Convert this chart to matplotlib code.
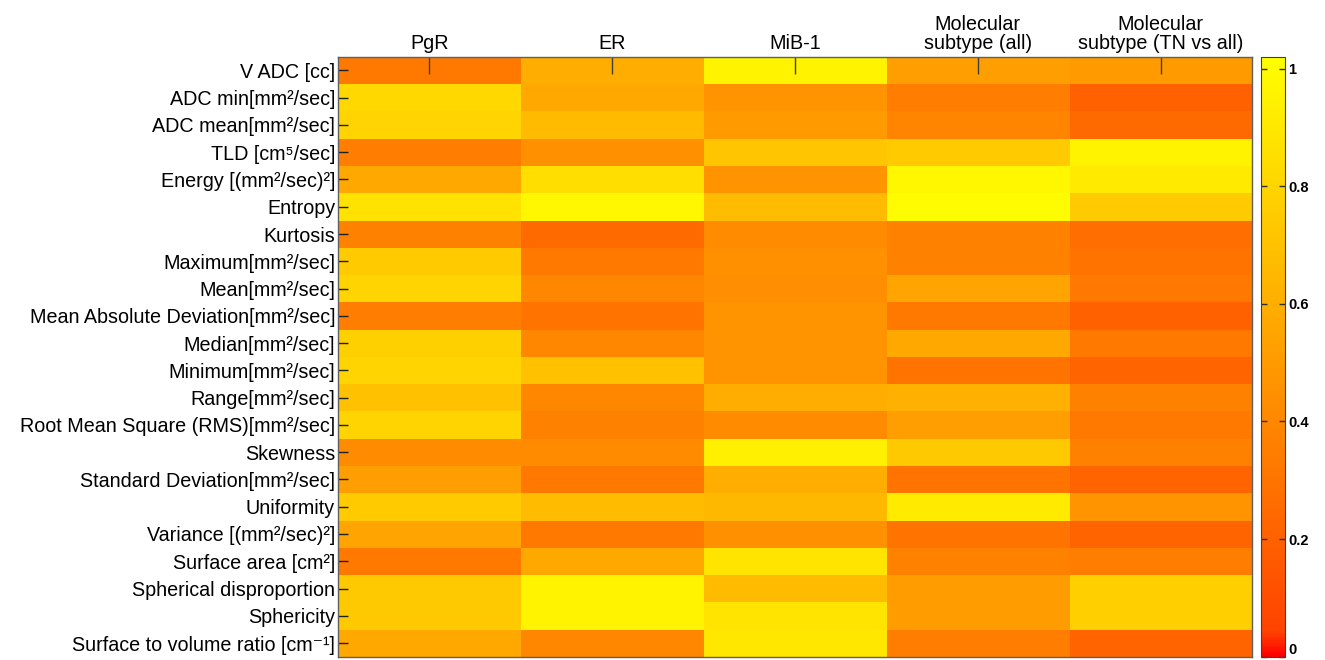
"""Heatmap of ADC / shape features vs. receptor status (MATLAB style)."""
import numpy as np
from matplotlib import pyplot as plt
from matplotlib.colors import LinearSegmentedColormap

features = ['V ADC [cc]', 'ADC min[mm²/sec]', 'ADC mean[mm²/sec]',
            'TLD [cm⁵/sec]', 'Energy [(mm²/sec)²]', 'Entropy', 'Kurtosis',
            'Maximum[mm²/sec]', 'Mean[mm²/sec]',
            'Mean Absolute Deviation[mm²/sec]', 'Median[mm²/sec]',
            'Minimum[mm²/sec]', 'Range[mm²/sec]',
            'Root Mean Square (RMS)[mm²/sec]', 'Skewness',
            'Standard Deviation[mm²/sec]', 'Uniformity',
            'Variance [(mm²/sec)²]', 'Surface area [cm²]',
            'Spherical disproportion', 'Sphericity',
            'Surface to volume ratio [cm⁻¹]']
targets = ['PgR', 'ER', 'MiB-1', 'Molecular\nsubtype (all)',
           'Molecular\nsubtype (TN vs all)']

pgr = [0.33, 0.82, 0.80, 0.35, 0.57, 0.87, 0.37, 0.75, 0.80, 0.35, 0.78,
       0.80, 0.70, 0.80, 0.42, 0.52, 0.75, 0.55, 0.32, 0.74, 0.74, 0.57]
er = [0.60, 0.57, 0.67, 0.45, 0.85, 0.98, 0.25, 0.32, 0.40, 0.30, 0.40,
      0.70, 0.40, 0.37, 0.42, 0.32, 0.67, 0.32, 0.57, 0.96, 0.96, 0.40]
mib1 = [0.96, 0.47, 0.50, 0.72, 0.47, 0.67, 0.42, 0.45, 0.44, 0.47, 0.47,
        0.46, 0.60, 0.42, 0.94, 0.60, 0.65, 0.45, 0.88, 0.67, 0.88, 0.90]
mol_all = [0.52, 0.35, 0.39, 0.75, 0.98, 1.00, 0.37, 0.37, 0.55, 0.32,
           0.57, 0.30, 0.61, 0.52, 0.74, 0.30, 0.91, 0.30, 0.37, 0.51,
           0.51, 0.35]
mol_tn = [0.50, 0.20, 0.25, 0.96, 0.91, 0.75, 0.27, 0.30, 0.32, 0.20,
          0.32, 0.22, 0.37, 0.32, 0.37, 0.22, 0.47, 0.22, 0.35, 0.77,
          0.77, 0.22]

vmin, vmax = 0.0, 1.02


def main():
    plt.rcParams['font.family'] = ['Liberation Sans', 'DejaVu Sans']

    data = np.column_stack([pgr, er, mib1, mol_all, mol_tn])

    # red only at the very bottom, then orange -> yellow
    cmap = LinearSegmentedColormap.from_list(
        'redorange', [(0.0, (1, 0, 0)), (0.04, (1, 0.26, 0)),
                      (1.0, (1, 1, 0))], N=256)

    fig = plt.figure(figsize=(13.25, 6.6), dpi=100)
    ax = fig.add_axes([0.255, 0.005, 0.69, 0.909])
    im = ax.imshow(data, cmap=cmap, vmin=vmin, vmax=vmax, aspect='auto',
                   interpolation='nearest')

    ax.xaxis.tick_top()
    ax.set_xticks(range(len(targets)))
    ax.set_xticklabels(targets, fontsize=14.2, linespacing=1.0)
    ax.set_yticks(range(len(features)))
    ax.set_yticklabels(features, fontsize=14.2)
    ax.tick_params(axis='x', direction='in', length=12, width=1,
                   color='#404040', pad=3)
    ax.tick_params(axis='y', direction='in', length=7, width=1,
                   color='#202020', pad=2)
    for spine in ax.spines.values():
        spine.set_color('#606060')
        spine.set_linewidth(1)

    cax = fig.add_axes([0.952, 0.005, 0.018, 0.909])
    cb = fig.colorbar(im, cax=cax)
    cb.set_ticks([0, 0.2, 0.4, 0.6, 0.8, 1])
    cb.set_ticklabels(['0', '0.2', '0.4', '0.6', '0.8', '1'])
    cax.tick_params(direction='in', length=4, width=1, labelsize=10.5,
                    pad=2, left=True, color='#303030')
    for lbl in cax.get_yticklabels():
        lbl.set_fontweight('bold')
    cax.get_yticklabels()[0].set_verticalalignment('bottom')
    cb.outline.set_edgecolor('#404040')

    fig.savefig('out.png', dpi=100)


if __name__ == '__main__':
    main()
